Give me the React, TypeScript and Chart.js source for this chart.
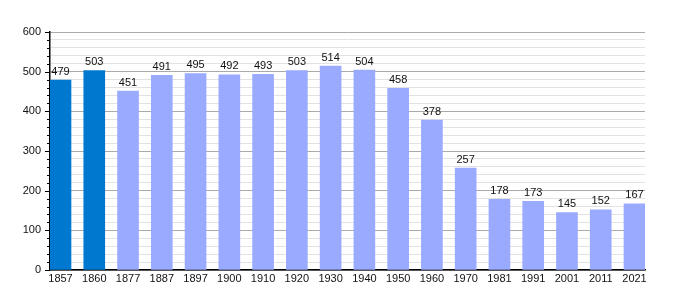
import React, { useEffect, useRef } from "react";
import { Chart, registerables } from "chart.js";

Chart.register(...registerables);

const years = ["1857", "1860", "1877", "1887", "1897", "1900", "1910", "1920", "1930", "1940", "1950", "1960", "1970", "1981", "1991", "2001", "2011", "2021"];
const population = [479, 503, 451, 491, 495, 492, 493, 503, 514, 504, 458, 378, 257, 178, 173, 145, 152, 167];
const darkCount = 2;
const yTicks = [0, 100, 200, 300, 400, 500, 600];

const DARK = "rgb(0,120,208)";
const LIGHT = "rgb(153,170,255)";
const FONT = "'Liberation Sans', Arial, sans-serif";

export default function App() {
  const ref = useRef<HTMLCanvasElement | null>(null);
  useEffect(() => {
    if (!ref.current) return;
    const half = 0.311;
    const labelPlugin = {
      id: "labels",
      afterDatasetsDraw(chart: any) {
        const ctx = chart.ctx;
        const meta = chart.getDatasetMeta(0);
        ctx.save();
        ctx.font = `11px ${FONT}`;
        ctx.fillStyle = "#111";
        ctx.textAlign = "center";
        ctx.textBaseline = "bottom";
        meta.data.forEach((el: any, i: number) => {
          ctx.fillText(String(population[i]), el.x, el.y - 3);
        });
        ctx.restore();
      },
      afterDraw(chart: any) {
        const ctx = chart.ctx;
        const ys = chart.scales.y;
        const left = chart.chartArea.left;
        ctx.save();
        ctx.strokeStyle = "#000";
        ctx.lineWidth = 1;
        for (let v = 0; v <= 600; v += 20) {
          const py = Math.round(ys.getPixelForValue(v)) + 0.5;
          const len = v % 100 === 0 ? 5 : 3;
          ctx.beginPath();
          ctx.moveTo(left - len, py);
          ctx.lineTo(left, py);
          ctx.stroke();
        }
        ctx.restore();
      },
    };
    const chart = new Chart(ref.current, {
      type: "bar",
      data: {
        datasets: [
          {
            data: population.map((v, i) => ({ x: i, y: v })),
            backgroundColor: population.map((_, i) => (i < darkCount ? DARK : LIGHT)),
            barThickness: 21,
            borderWidth: 0,
          },
        ],
      },
      options: {
        animation: false,
        responsive: false,
        maintainAspectRatio: false,
        layout: { padding: { top: 32, right: 30, left: 0, bottom: 0 } },
        plugins: { legend: { display: false }, tooltip: { enabled: false } },
        scales: {
          x: {
            type: "linear",
            offset: false,
            min: -half,
            max: years.length - 1 + half,
            afterBuildTicks: (scale: any) => {
              scale.ticks = years.map((_, i) => ({ value: i }));
            },
            afterFit: (scale: any) => {
              scale.height = 30;
            },
            ticks: {
              autoSkip: false,
              maxRotation: 0,
              padding: 2,
              color: "#111",
              font: { family: FONT, size: 11 },
              callback: (v: any) => years[v as number] ?? "",
            },
            grid: { display: false, drawTicks: false, offset: false },
            border: { display: true, color: "#000", width: 1.5 },
          },
          y: {
            min: 0,
            max: 600,
            afterBuildTicks: (scale: any) => {
              const t: any[] = [];
              for (let v = 0; v <= 600; v += 20) t.push({ value: v });
              scale.ticks = t;
            },
            afterFit: (scale: any) => {
              scale.width = 50;
            },
            ticks: {
              autoSkip: false,
              padding: 9,
              color: "#111",
              font: { family: FONT, size: 11 },
              callback: (v: any) => (yTicks.includes(v as number) ? String(v) : ""),
            },
            grid: {
              drawTicks: false,
              color: (c: any) => (c.tick && c.tick.value % 100 === 0 ? "#aaaaaa" : "#e2e2e2"),
              lineWidth: 1,
            },
            border: { display: true, color: "#000", width: 1.5 },
          },
        },
      },
      plugins: [labelPlugin],
    } as any);
    return () => chart.destroy();
  }, []);
  return (
    <div style={{ position: "fixed", left: 0, top: 0, width: 675, height: 300, background: "#fff" }}>
      <canvas ref={ref} width={675} height={300} style={{ width: 675, height: 300 }} />
    </div>
  );
}
